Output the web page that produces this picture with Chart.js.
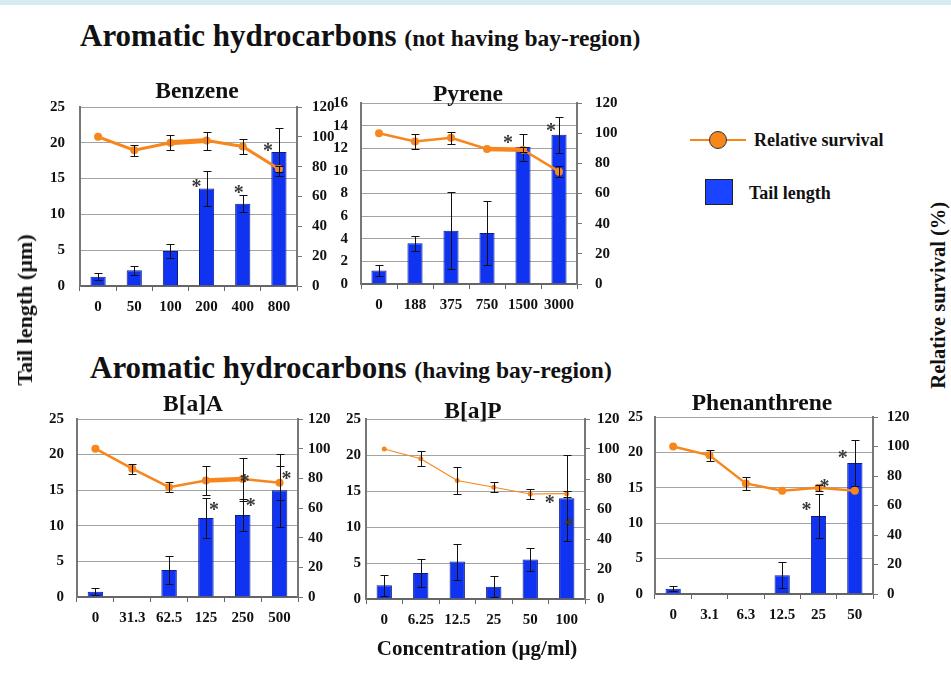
<!DOCTYPE html>
<html>
<head>
<meta charset="utf-8">
<script src="https://cdn.jsdelivr.net/npm/chart.js@4.4.1/dist/chart.umd.min.js"></script>
<style>
body{margin:0;background:#fff;width:951px;height:674px;overflow:hidden;position:relative;font-family:"Liberation Serif","Times New Roman",serif;font-weight:bold;color:#111}
.strip{position:absolute;left:0;top:0;width:951px;height:5px;background:#d7ebf2}
.t{position:absolute;white-space:nowrap;line-height:1}
canvas{position:absolute}
.key{position:absolute;box-sizing:border-box}
</style>
</head>
<body>
<div class="strip"></div>
<canvas id="benzene"></canvas>
<canvas id="pyrene"></canvas>
<canvas id="baa"></canvas>
<canvas id="bap"></canvas>
<canvas id="phen"></canvas>

<div class="key" style="left:690px;top:139px;width:56px;height:2px;background:#f7861c"></div>
<div class="key" style="left:709px;top:131px;width:18px;height:18px;border-radius:50%;background:#f7861c;border:1px solid #333"></div>
<div class="key" style="left:705px;top:179px;width:28px;height:26px;background:#1a44ff;border:1px solid #222"></div>

<script>
// concentrations (x), tail length (left axis, µm) and relative survival (right axis, %)
const benzeneConc=['0','50','100','200','400','800']
const benzeneTail=[1.3,2.2,4.9,13.6,11.5,18.7]
const benzeneTailErr=[0.45,0.65,0.95,2.4,1.2,3.4]
const benzeneSurv=[100,91,96,97.5,93.5,78.5]
const benzeneSurvErr=[0,3.6,5,6,5,2]

const pyreneConc=['0','188','375','750','1500','3000']
const pyreneTail=[1.2,3.6,4.7,4.5,12.1,13.2]
const pyreneTailErr=[0.45,0.65,3.4,2.8,1.2,1.6]
const pyreneSurv=[100,94.5,97,89.5,89,74.5]
const pyreneSurvErr=[0,4.9,3.9,0,1.5,3.8]

const baaConc=['0','31.3','62.5','125','250','500']
const baaTail=[0.75,0,3.8,11.1,11.5,15]
const baaTailErr=[0.45,0,2,2.75,2.3,5.1]
const baaSurv=[100,86.5,74,78.5,79.5,77]
const baaSurvErr=[0,3.3,3.4,10,14.5,11.5]

const bapConc=['0','6.25','12.5','25','50','100']
const bapTail=[1.9,3.6,5.2,1.7,5.5,14]
const bapTailErr=[1.5,2,2.5,1.45,1.65,6]
const bapSurv=[100,93.5,79,74.5,70,70.2]
const bapSurvErr=[0,5,8.9,3.3,3.5,2]

const phenConc=['0','3.1','6.3','12.5','25','50']
const phenTail=[0.75,0,0,2.65,11,18.5]
const phenTailErr=[0.35,0,0,1.85,3.15,3.2]
const phenSurv=[100,94,75,70,72,70]
const phenSurvErr=[0,3.6,4.5,0,2,0]

const SERIF='"Liberation Serif","Times New Roman",serif'
const ORANGE='#f7861c'
const BLUE='#0f33f0'

// whiskers for any dataset carrying an `errors` array, drawn right after that dataset
const errorBars={id:'errorBars',afterDatasetDraw(chart,args){
  const ds=chart.data.datasets[args.index]
  if(!ds.errors)return
  const ctx=chart.ctx
  const sc=chart.scales[ds.yAxisID]
  ctx.save()
  ctx.strokeStyle='#111'
  ctx.lineWidth=1
  args.meta.data.forEach((el,j)=>{
    const e=ds.errors[j]
    if(!e)return
    const v=ds.data[j],x=Math.round(el.x)+0.5
    const y1=Math.round(sc.getPixelForValue(v+e))+0.5
    const y2=Math.round(sc.getPixelForValue(v-e))+0.5
    ctx.beginPath()
    ctx.moveTo(x,y1);ctx.lineTo(x,y2)
    ctx.moveTo(x-4,y1);ctx.lineTo(x+4,y1)
    ctx.moveTo(x-4,y2);ctx.lineTo(x+4,y2)
    ctx.stroke()
  })
  ctx.restore()
}}

// significance asterisks, placed relative to a bar top or a survival point
const stars={id:'stars',afterDatasetsDraw(chart,args,opts){
  const ctx=chart.ctx
  ctx.save()
  ctx.fillStyle='#3a3a3a'
  ctx.font='bold 20px '+SERIF
  ctx.textAlign='center'
  ctx.textBaseline='middle'
  for(const m of (opts.marks||[])){
    const el=chart.getDatasetMeta(m.on==='bar'?0:1).data[m.i]
    ctx.fillText('*',el.x+m.dx,el.y+m.dy+4)
  }
  ctx.restore()
}}

const tickFont={family:SERIF,size:15,weight:'bold'}

function panel(id,box,o){
  const cv=document.getElementById(id)
  // padT must exceed half a tick label plus tick padding, else Chart.js pushes the area down
  const padL=52,padR=52,padT=32,padB=42
  cv.style.left=(box[0]-padL)+'px'
  cv.style.top=(box[1]-padT)+'px'
  cv.width=box[2]-box[0]+padL+padR
  cv.height=box[3]-box[1]+padT+padB
  new Chart(cv,{
    data:{labels:o.labels,datasets:[
      {type:'bar',data:o.tail,errors:o.tailErr,yAxisID:'y',backgroundColor:BLUE,borderColor:'#0b1d8a',borderWidth:1,barPercentage:0.42,categoryPercentage:1,order:2},
      {type:'line',data:o.surv,errors:o.survErr,yAxisID:'y1',borderColor:ORANGE,backgroundColor:ORANGE,borderWidth:o.lw,pointRadius:o.pr,pointBorderWidth:0,tension:0,order:1,
        segment:{borderWidth:c=>c.p0DataIndex===o.thick?o.lw+2:o.lw}}
    ]},
    options:{
      responsive:false,animation:false,
      layout:{padding:{top:padT,left:0,right:0,bottom:0}},
      plugins:{legend:{display:false},tooltip:{enabled:false},stars:{marks:o.stars}},
      scales:{
        x:{offset:true,
          grid:{offset:true,drawOnChartArea:false,drawTicks:true,tickLength:5,color:'#666'},
          border:{color:'#666',width:2},
          ticks:{font:tickFont,color:'#111',padding:7,maxRotation:0,autoSkip:false},
          afterFit(s){s.height=padB}},
        y:{position:'left',min:0,max:o.yMax,
          grid:{color:'#a3a3a3',drawTicks:false},
          border:{color:'#777',width:2},
          ticks:{stepSize:o.yStep,font:tickFont,color:'#111',padding:o.lp},
          afterFit(s){s.width=padL}},
        y1:{position:'right',min:0,max:120,
          grid:{drawOnChartArea:false,tickLength:5,color:'#777'},
          border:{color:'#777',width:2},
          ticks:{stepSize:20,font:tickFont,color:'#111',padding:o.rp},
          afterFit(s){s.width=padR}}
      }
    },
    plugins:[errorBars,stars]
  })
}

panel('benzene',[80,107,297,286],{labels:benzeneConc,tail:benzeneTail,tailErr:benzeneTailErr,surv:benzeneSurv,survErr:benzeneSurvErr,
  yMax:25,yStep:5,lp:15,rp:10,lw:3,pr:4,thick:2,
  stars:[{on:'bar',i:3,dx:-10,dy:-5},{on:'bar',i:4,dx:-4,dy:-14},{on:'bar',i:5,dx:-11,dy:-4}]})
panel('pyrene',[361,103,577,284],{labels:pyreneConc,tail:pyreneTail,tailErr:pyreneTailErr,surv:pyreneSurv,survErr:pyreneSurvErr,
  yMax:16,yStep:2,lp:13,rp:13,lw:2.5,pr:4,thick:3,
  stars:[{on:'bar',i:4,dx:-15,dy:-7},{on:'bar',i:5,dx:-8,dy:-7}]})
panel('baa',[77,419,298,597],{labels:baaConc,tail:baaTail,tailErr:baaTailErr,surv:baaSurv,survErr:baaSurvErr,
  yMax:25,yStep:5,lp:13,rp:5,lw:2.5,pr:4,thick:3,
  stars:[{on:'bar',i:3,dx:8,dy:-11},{on:'bar',i:4,dx:8,dy:-12},{on:'line',i:4,dx:2,dy:0},{on:'line',i:5,dx:7,dy:-7}]})
panel('bap',[366,419,585,599],{labels:bapConc,tail:bapTail,tailErr:bapTailErr,surv:bapSurv,survErr:bapSurvErr,
  yMax:25,yStep:5,lp:5,rp:7,lw:1.2,pr:2.5,thick:-1,
  stars:[{on:'line',i:5,dx:-17,dy:6},{on:'bar',i:5,dx:2,dy:25}]})
panel('phen',[655,417,873,594],{labels:phenConc,tail:phenTail,tailErr:phenTailErr,surv:phenSurv,survErr:phenSurvErr,
  yMax:25,yStep:5,lp:12,rp:9,lw:2.5,pr:4,thick:-1,
  stars:[{on:'bar',i:4,dx:-12,dy:-9},{on:'line',i:4,dx:6,dy:-4},{on:'bar',i:5,dx:-12,dy:-8}]})

// page text: headings, panel names, axis titles and key
function txt(s,x,y,size,opt){
  const d=document.createElement('div')
  d.className='t'
  d.textContent=s
  d.style.fontSize=size+'px'
  d.style.left=x+'px'
  d.style.top=(y-size/2)+'px'
  let tr=''
  if(opt&&opt.center)tr+='translateX(-50%) '
  if(opt&&opt.rot)tr='translate(-50%,0) rotate(-90deg)'
  if(tr)d.style.transform=tr
  document.body.appendChild(d)
  return d
}
function heading(main,sub,x,y){
  const d=txt('',x,y,31)
  d.innerHTML=main+' <span style="font-size:23.5px">'+sub+'</span>'
}
heading('Aromatic hydrocarbons','(not having bay-region)',80,35)
heading('Aromatic hydrocarbons','(having bay-region)',90,367)

txt('Benzene',197,91,23.5,{center:1})
txt('Pyrene',468,94,23.5,{center:1})
txt('B[a]A',193,404,23.5,{center:1})
txt('B[a]P',473,411,23.5,{center:1})
txt('Phenanthrene',762,403,23.5,{center:1})

txt('Relative survival',754,140,18)
txt('Tail length',749,193,18)
txt('Concentration (µg/ml)',477,648,21,{center:1})
txt('Tail length (µm)',25,310,22,{rot:1})
txt('Relative survival (%)',938,295,20.5,{rot:1})
</script>
</body>
</html>
